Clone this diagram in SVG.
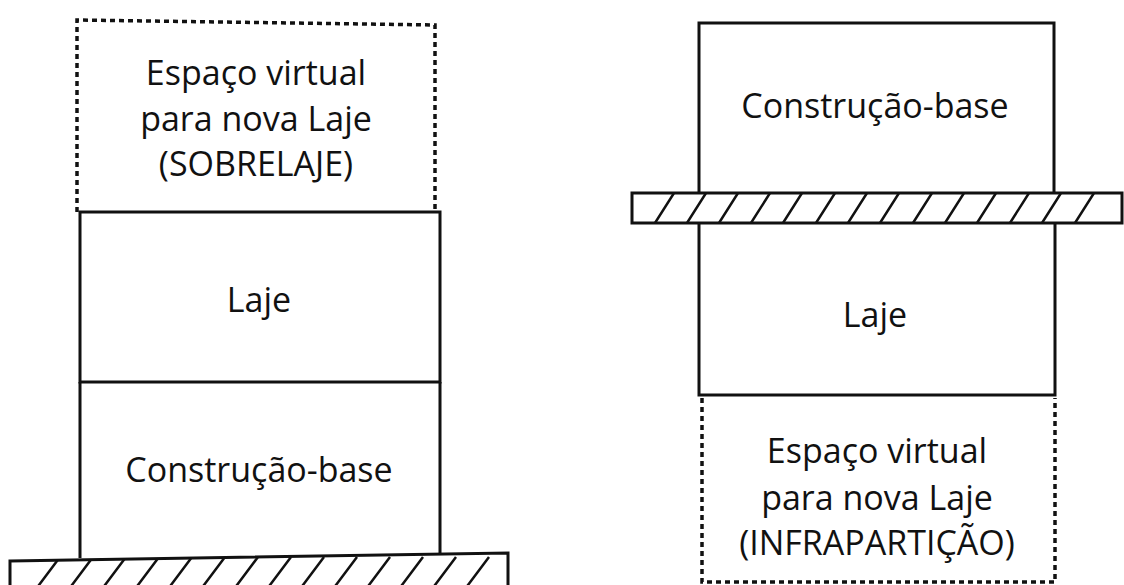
<svg xmlns="http://www.w3.org/2000/svg" width="1124" height="585" viewBox="0 0 1124 585">
<style>
.solid{fill:none;stroke:#111;stroke-width:3}
.dot{fill:none;stroke:#111;stroke-width:3.5;stroke-dasharray:5 4}
.slab{fill:#fff;stroke:#111;stroke-width:3}
.hatch{stroke:#111;stroke-width:2.5;fill:none}
.lbl{font-family:"Open Sans","Noto Sans",sans-serif;font-size:34px;fill:#111;text-anchor:middle}
</style>
<rect width="1124" height="585" fill="#fff"/>
<defs>
<clipPath id="cl"><polygon points="10,561 508,553 508,590 10,590"/></clipPath>
<clipPath id="cr"><rect x="632" y="193" width="490" height="30"/></clipPath>
</defs>
<g id="left">
<g id="left-virtual">
<path class="dot" d="M77,212 L77,20 L435,25 L435,212"/>
<text class="lbl" x="256" y="85">Espaço virtual</text>
<text class="lbl" x="256" y="131">para nova Laje</text>
<text class="lbl" x="256" y="176">(SOBRELAJE)</text>
</g>
<g id="left-laje">
<rect class="solid" x="80" y="212" width="360" height="170"/>
<text class="lbl" x="259" y="312">Laje</text>
</g>
<g id="left-base">
<path class="solid" d="M80,382 L80,558 M440,382 L440,554"/>
<text class="lbl" x="259" y="482">Construção-base</text>
</g>
<g id="left-ground">
<polygon class="slab" points="10,561 508,553 508,590 10,590"/>
<g clip-path="url(#cl)" class="hatch">
<path d="M60,557 l-24,32 M93,557 l-24,32 M126,557 l-24,32 M159,557 l-24,32 M192,557 l-24,32 M225,557 l-24,32 M258,557 l-24,32 M291,557 l-24,32 M324,557 l-24,32 M357,557 l-24,32 M390,557 l-24,32 M423,557 l-24,32 M456,557 l-24,32 M489,557 l-24,32"/>
</g>
</g>
</g>
<g id="right">
<g id="right-base">
<path class="solid" d="M699,193 L699,23 L1054,23 L1054,193"/>
<text class="lbl" x="875" y="118">Construção-base</text>
</g>
<g id="right-ground">
<rect class="slab" x="632" y="193" width="490" height="30"/>
<g clip-path="url(#cr)" class="hatch">
<path d="M655,223 l19,-30 M687,223 l19,-30 M719,223 l19,-30 M751,223 l19,-30 M783,223 l19,-30 M816,223 l19,-30 M848,223 l19,-30 M880,223 l19,-30 M913,223 l19,-30 M945,223 l19,-30 M977,223 l19,-30 M1010,223 l19,-30 M1042,223 l19,-30 M1075,223 l19,-30"/>
</g>
</g>
<g id="right-laje">
<path class="solid" d="M699,223 L699,395 L1055,395 L1055,223"/>
<text class="lbl" x="875" y="327">Laje</text>
</g>
<g id="right-virtual">
<path class="dot" d="M702,398 L702,582 L1055,582 L1055,398"/>
<text class="lbl" x="877" y="463">Espaço virtual</text>
<text class="lbl" x="877" y="510">para nova Laje</text>
<text class="lbl" x="877" y="555">(INFRAPARTIÇÃO)</text>
</g>
</g>
<g id="connectors"/>
</svg>
